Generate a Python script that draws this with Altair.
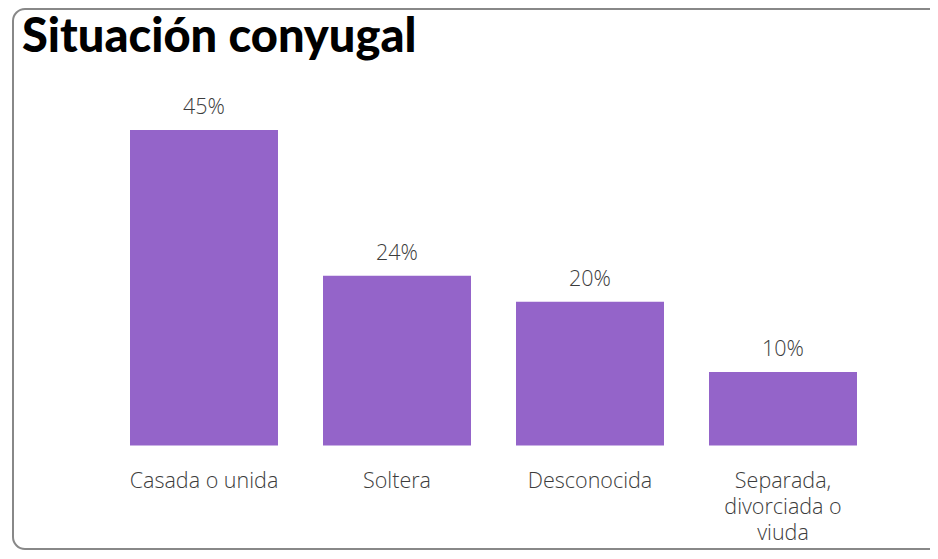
import altair as alt
import pandas as pd

categories = ["Casada o unida", "Soltera", "Desconocida", "Separada, divorciada o viuda"]
values = [45.0, 24.2, 20.5, 10.5]
labels = ["45%", "24%", "20%", "10%"]

df = pd.DataFrame({"cat": categories, "val": values, "lab": labels})

FONT = "Open Sans"
TFONT = "Lato"
BAR = "#9464c9"
TXT = "#3c3c3c"

x_enc = alt.X(
    "cat:N",
    sort=categories,
    scale=alt.Scale(paddingInner=0.2332, paddingOuter=0.114),
    axis=alt.Axis(
        title=None, labelAngle=0, ticks=False, domain=False, grid=False,
        labelFont=FONT, labelFontSize=21.5, labelFontWeight=300, labelColor=TXT,
        labelPadding=24.5, labelBaseline="top", labelLineHeight=26, labelLimit=400,
        labelExpr="datum.label == 'Separada, divorciada o viuda' ? ['Separada,', 'divorciada o', 'viuda'] : datum.label",
    ),
)
y_enc = alt.Y("val:Q", scale=alt.Scale(domain=[0, 45], nice=False, zero=True), axis=None)

bars = alt.Chart(df).mark_bar(color=BAR).encode(x=x_enc, y=y_enc)
text = alt.Chart(df).mark_text(
    dy=-16, baseline="alphabetic", fontSize=21.5, font=FONT, fontWeight=300, color=TXT, clip=False
).encode(x=alt.X("cat:N", sort=categories), y="val:Q", text="lab:N")

frame = alt.Chart(pd.DataFrame({"k": [0]})).mark_rect(
    fillOpacity=0, stroke="#888888", strokeWidth=2, cornerRadius=12, clip=False
).encode(x=alt.value(-95), x2=alt.value(840), y=alt.value(-121), y2=alt.value(419))

chart = alt.layer(frame, bars, text).properties(
    width=771,
    height=315.5,
    title=alt.Title(
        "Situación conyugal", anchor="start", frame="group", font=TFONT, fontSize=47,
        fontWeight=900, color="#000000", dx=-86, offset=-91, baseline="alphabetic",
    ),
    autosize=alt.AutoSizeParams(type="none"),
    padding={"left": 100, "top": 122, "right": 51, "bottom": 105.5},
).configure_view(stroke=None)

chart.save("out.html", embed_options={"renderer": "svg", "actions": False})
